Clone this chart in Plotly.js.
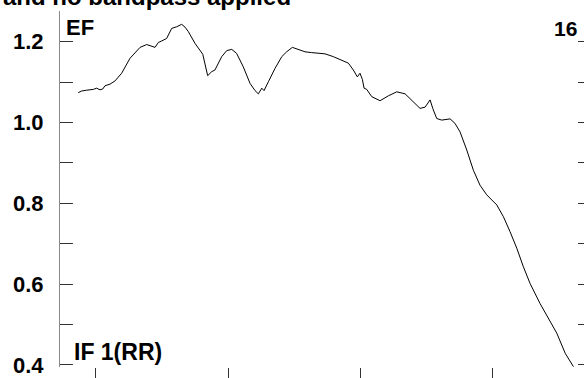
<!DOCTYPE html>
<html>
<head>
<meta charset="utf-8">
<script src="https://cdn.plot.ly/plotly-3.0.1.min.js"></script>
<style>
html,body{margin:0;padding:0;overflow:hidden;background:#fff;}
#chart{width:600px;height:378px;}
</style>
</head>
<body>
<div id="chart"></div>
<script>
// Data (x in tick units, y = amplitude)
var xVals = [0.866,0.892,0.930,0.980,1.005,1.030,1.051,1.068,1.106,1.144,1.194,1.257,1.333,1.383,1.446,1.471,1.497,1.534,1.572,1.610,1.648,1.673,1.698,1.748,1.807,1.824,1.844,1.875,1.899,1.950,1.988,2.026,2.063,2.113,2.164,2.202,2.227,2.253,2.270,2.303,2.353,2.404,2.441,2.484,2.529,2.580,2.630,2.680,2.731,2.794,2.857,2.907,2.945,2.975,2.995,3.013,3.026,3.046,3.084,3.147,3.209,3.273,3.336,3.398,3.449,3.487,3.525,3.545,3.575,3.613,3.676,3.713,3.751,3.802,3.852,3.902,3.953,4.029,4.079,4.129,4.180,4.230,4.280,4.356,4.431,4.482,4.546,4.608];
var yVals = [1.074,1.078,1.080,1.082,1.085,1.081,1.083,1.091,1.095,1.103,1.122,1.159,1.186,1.193,1.186,1.198,1.202,1.208,1.233,1.237,1.243,1.236,1.225,1.196,1.169,1.147,1.116,1.126,1.130,1.163,1.178,1.181,1.171,1.138,1.097,1.079,1.071,1.085,1.079,1.101,1.134,1.163,1.175,1.186,1.181,1.175,1.173,1.171,1.170,1.163,1.155,1.147,1.130,1.113,1.122,1.107,1.085,1.082,1.064,1.054,1.066,1.076,1.071,1.051,1.035,1.038,1.056,1.035,1.010,1.006,1.009,0.998,0.977,0.932,0.882,0.845,0.821,0.796,0.767,0.730,0.689,0.643,0.602,0.552,0.507,0.479,0.429,0.396];
var yTickVals = [0.4,0.5,0.6,0.7,0.8,0.9,1.0,1.1,1.2];
var yTickText = ['0.4','','0.6','','0.8','','1.0','','1.2'];
var xTickVals = [1,2,3,4];
var titleText = 'and no bandpass applied';
var labelTopLeft = 'EF';
var labelTopRight = '16';
var labelBottomLeft = 'IF 1(RR)';

var xRange = [0.728, 4.741];
var yRange = [0.395, 1.276];
var fontFam = 'Liberation Sans, Arial, Helvetica, sans-serif';

var trace = {
  x: xVals, y: yVals, type: 'scatter', mode: 'lines',
  line: {color: '#000', width: 1}, hoverinfo: 'skip', showlegend: false
};

var W = 600, H = 378, mL = 60, mR = 9, mT = 11, mB = 11;
var pw = W - mL - mR, ph = H - mT - mB;
function px(x){ return (x - mL) / pw; }
function py(y){ return (H - mB - y) / ph; }

var layout = {
  width: W, height: H,
  margin: {l: mL, r: mR, t: mT, b: mB, pad: 0},
  paper_bgcolor: '#fff', plot_bgcolor: '#fff',
  showlegend: false,
  font: {family: fontFam, color: '#000'},
  xaxis: {
    range: xRange, tickvals: xTickVals, showticklabels: false,
    ticks: 'outside', ticklen: 12, tickwidth: 1, tickcolor: '#333',
    showline: false, showgrid: false, zeroline: false, fixedrange: true
  },
  xaxis2: {
    overlaying: 'x', side: 'top', anchor: 'y', matches: 'x',
    range: xRange, tickvals: xTickVals, showticklabels: false,
    ticks: 'inside', ticklen: 13, tickwidth: 1, tickcolor: '#333',
    showline: true, linecolor: '#888', linewidth: 1,
    showgrid: false, zeroline: false, fixedrange: true
  },
  yaxis: {
    range: yRange, tickvals: yTickVals, ticktext: yTickText,
    ticks: 'inside', ticklen: 13, tickwidth: 1, tickcolor: '#333',
    showline: true, linecolor: '#888', linewidth: 1, mirror: 'ticks',
    showgrid: false, zeroline: false, fixedrange: true,
    ticklabelstandoff: 11,
    tickfont: {family: fontFam, size: 22, color: '#000', weight: 'bold'}
  },
  annotations: [
    {text: titleText, xref: 'paper', yref: 'paper', x: px(1), y: py(12),
     xanchor: 'left', yanchor: 'bottom', showarrow: false,
     font: {family: fontFam, size: 24, color: '#000', weight: 'bold'}},
    {text: labelTopLeft, xref: 'paper', yref: 'paper', x: px(64), y: py(13),
     xanchor: 'left', yanchor: 'top', showarrow: false,
     font: {family: fontFam, size: 22, color: '#000', weight: 'bold'}},
    {text: labelTopRight, xref: 'paper', yref: 'paper', x: px(579), y: py(15),
     xanchor: 'right', yanchor: 'top', showarrow: false,
     font: {family: fontFam, size: 21, color: '#000', weight: 'bold'}},
    {text: labelBottomLeft, xref: 'paper', yref: 'paper', x: px(72), y: py(367),
     xanchor: 'left', yanchor: 'bottom', showarrow: false,
     font: {family: fontFam, size: 23, color: '#000', weight: 'bold'}}
  ]
};

Plotly.newPlot('chart', [trace], layout, {displayModeBar: false, staticPlot: true});
</script>
</body>
</html>
